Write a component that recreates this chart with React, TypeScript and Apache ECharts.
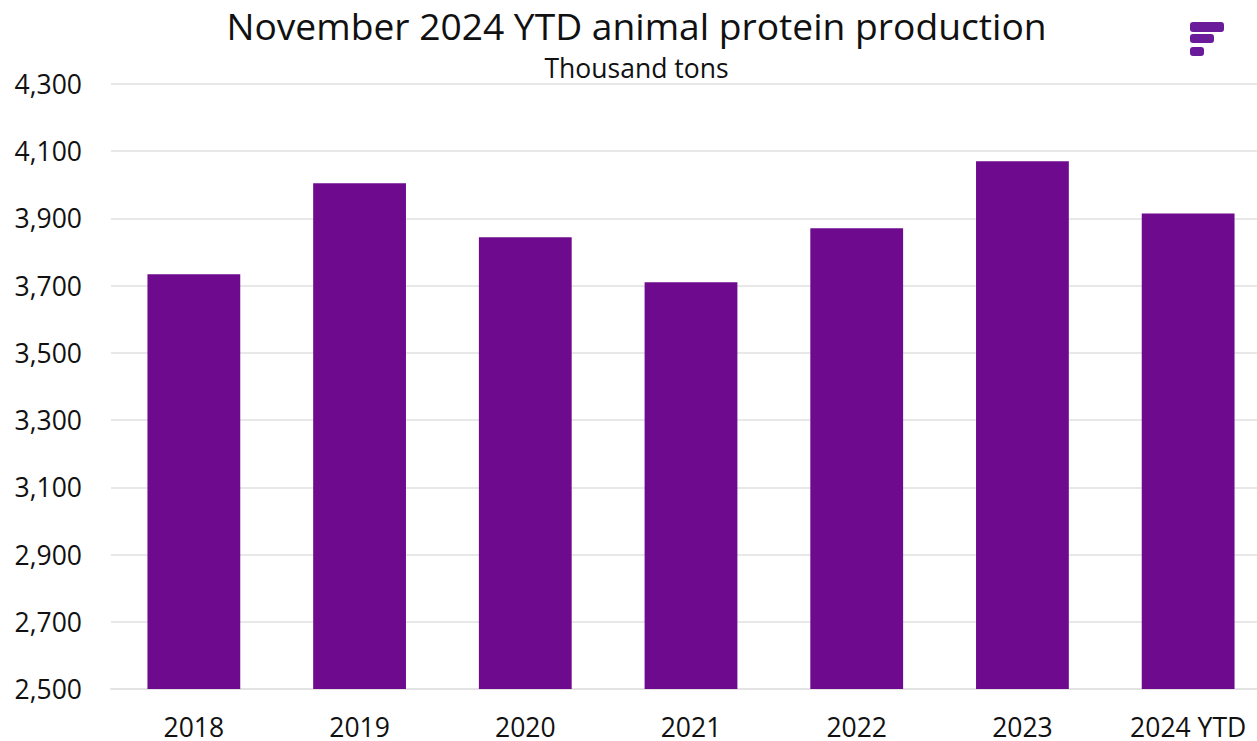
import React, { useEffect, useRef } from "react";
import * as echarts from "echarts";

const categories = ["2018", "2019", "2020", "2021", "2022", "2023", "2024 YTD"];
const production = [3734, 4005, 3844, 3710, 3871, 4070, 3915];
const yMin = 2500;
const yMax = 4300;
const yInterval = 200;
const titleText = "November 2024 YTD animal protein production";
const subtitleText = "Thousand tons";

const FONT = "'Open Sans', 'Noto Sans', sans-serif";
const PURPLE = "#6e0a8e";

export default function App() {
  const ref = useRef<HTMLDivElement>(null);
  useEffect(() => {
    if (!ref.current) return;
    const chart = echarts.init(ref.current, undefined, { renderer: "svg" });
    chart.setOption({
      animation: false,
      backgroundColor: "#ffffff",
      textStyle: { fontFamily: FONT },
      grid: { left: 111, right: 9, top: 84, bottom: 52, containLabel: false },
      graphic: [
        {
          type: "text",
          x: 636.5,
          y: 25,
          style: {
            text: titleText,
            font: `37.2px ${FONT}`,
            fill: "#111111",
            align: "center",
            verticalAlign: "middle",
          },
        },
        {
          type: "text",
          x: 636.5,
          y: 68,
          style: {
            text: subtitleText,
            font: `26.5px ${FONT}`,
            fill: "#111111",
            align: "center",
            verticalAlign: "middle",
          },
        },
        {
          type: "rect",
          shape: { x: 1190, y: 22, width: 34, height: 10, r: 3 },
          style: { fill: "#6a1b9a" },
        },
        {
          type: "rect",
          shape: { x: 1190, y: 34, width: 24, height: 9, r: 3 },
          style: { fill: "#6a1b9a" },
        },
        {
          type: "rect",
          shape: { x: 1190, y: 47, width: 14, height: 9, r: 3 },
          style: { fill: "#6a1b9a" },
        },
      ],
      xAxis: {
        type: "category",
        data: categories,
        axisLine: { show: true, lineStyle: { color: "#e3e3e3", width: 2 } },
        axisTick: { show: false },
        axisLabel: {
          color: "#111111",
          fontSize: 26.5,
          lineHeight: 24,
          fontFamily: FONT,
          margin: 26,
        },
      },
      yAxis: {
        type: "value",
        min: yMin,
        max: yMax,
        interval: yInterval,
        axisLine: { show: false },
        axisTick: { show: false },
        splitLine: { lineStyle: { color: "#e8e8e8", width: 2 } },
        axisLabel: {
          color: "#111111",
          fontSize: 26.5,
          fontFamily: FONT,
          margin: 29,
          formatter: (v: number) => v.toLocaleString("en-US"),
        },
      },
      series: [
        {
          type: "bar",
          data: production,
          barCategoryGap: "44%",
          itemStyle: { color: PURPLE },
        },
      ],
    });
    return () => chart.dispose();
  }, []);
  return (
    <div
      style={{
        position: "fixed",
        left: 0,
        top: 0,
        width: "1257px",
        height: "741px",
        overflow: "hidden",
        background: "#fff",
      }}
    >
      <div ref={ref} style={{ width: "1280px", height: "741px" }} />
    </div>
  );
}
